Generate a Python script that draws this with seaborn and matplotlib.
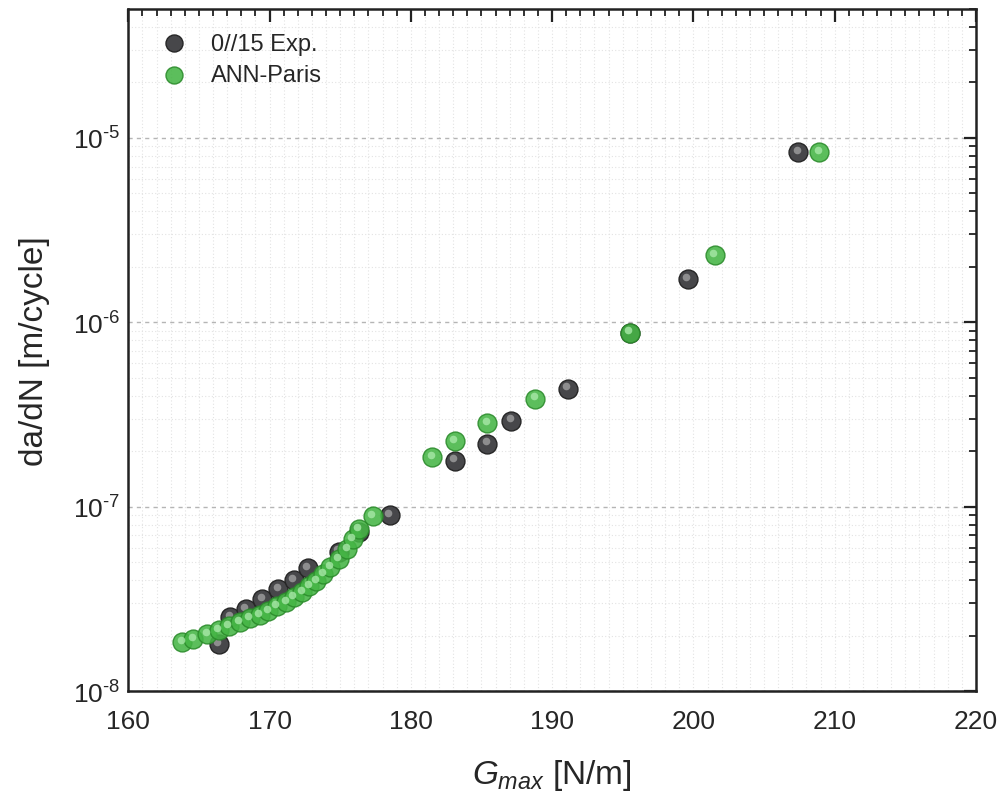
import numpy as np
import pandas as pd
import matplotlib
matplotlib.use("Agg")
import matplotlib.pyplot as plt
import seaborn as sns
from matplotlib.ticker import MultipleLocator, LogLocator, NullFormatter

# datos
exp_g = [166.4, 167.2, 168.3, 169.5, 170.6, 171.7, 172.7, 174.9, 176.3, 178.5,
         183.1, 185.4, 187.1, 191.1, 195.5, 199.6, 207.4]
exp_dadn = [1.80e-8, 2.52e-8, 2.78e-8, 3.15e-8, 3.57e-8, 3.99e-8, 4.63e-8, 5.7e-8, 7.3e-8, 9.0e-8,
            1.78e-7, 2.20e-7, 2.93e-7, 4.37e-7, 8.79e-7, 1.72e-6, 8.39e-6]

ann_g = [163.8, 164.6, 165.6, 166.4, 167.1, 167.9, 168.6, 169.3, 169.9, 170.5,
         171.2, 171.7, 172.3, 172.8, 173.3, 173.8, 174.3, 174.9, 175.5, 175.9,
         176.3, 177.3, 181.5, 183.1, 185.4, 188.8, 195.5, 201.5, 208.9]
ann_dadn = [1.84e-8, 1.91e-8, 2.04e-8, 2.14e-8, 2.25e-8, 2.36e-8, 2.48e-8, 2.58e-8, 2.71e-8, 2.89e-8,
            3.03e-8, 3.23e-8, 3.44e-8, 3.70e-8, 3.94e-8, 4.30e-8, 4.69e-8, 5.18e-8, 5.87e-8, 6.65e-8,
            7.54e-8, 8.86e-8, 1.85e-7, 2.26e-7, 2.83e-7, 3.86e-7, 8.79e-7, 2.32e-6, 8.39e-6]

exp = pd.DataFrame({'G': exp_g, 'dadn': exp_dadn})
ann = pd.DataFrame({'G': ann_g, 'dadn': ann_dadn})

sns.set_style("white")
plt.rcParams['font.family'] = ['Liberation Sans', 'DejaVu Sans']
plt.rcParams['mathtext.fontset'] = 'custom'
plt.rcParams['mathtext.rm'] = 'Liberation Sans'
plt.rcParams['mathtext.it'] = 'Liberation Sans:italic'

fig = plt.figure(figsize=(10.02, 8.03), dpi=100)
ax = fig.add_axes([0.128, 0.138, 0.846, 0.8495])

negro = '#47474a'
verde = '#45b545'
ms = 185

sns.scatterplot(data=exp, x='G', y='dadn', s=ms, color=negro, edgecolor='#262626',
                linewidth=1.0, ax=ax, label='0//15 Exp.', zorder=3)
sns.scatterplot(data=ann, x='G', y='dadn', s=ms, color=verde, edgecolor='#2a8a2a',
                linewidth=1.0, alpha=0.88, ax=ax, label='ANN-Paris', zorder=4)
# brillo de las esferas
ax.scatter(exp.G - 0.1, exp.dadn * 1.03, s=30, color='#a0a0a0', alpha=0.8,
           linewidth=0, zorder=3.5)
ax.scatter(ann.G - 0.1, ann.dadn * 1.03, s=30, color='#a8e8a8', alpha=0.8,
           linewidth=0, zorder=4.5)

ax.set_yscale('log')
ax.set_xlim(160, 220)
ax.set_ylim(1e-8, 5e-5)
ax.xaxis.set_major_locator(MultipleLocator(10))
ax.xaxis.set_minor_locator(MultipleLocator(1))
ax.yaxis.set_minor_locator(LogLocator(base=10, subs=np.arange(2, 10), numticks=20))
ax.yaxis.set_minor_formatter(NullFormatter())
ax.set_yticks([1e-8, 1e-7, 1e-6, 1e-5])
ax.set_yticklabels(['10$^{\\text{-8}}$', '10$^{\\text{-7}}$', '10$^{\\text{-6}}$', '10$^{\\text{-5}}$'])

ax.tick_params(which='both', direction='in', top=True, right=True, labelsize=19,
               color='#222222')
ax.tick_params(which='major', length=9, width=1.6)
ax.tick_params(which='minor', length=5, width=1.3)
ax.tick_params(axis='x', which='major', pad=13)
ax.tick_params(axis='y', which='major', pad=6)
for s in ax.spines.values():
    s.set_linewidth(1.8)
    s.set_color('#222222')

ax.grid(which='major', axis='y', linestyle=(0, (3, 3)), color='#b5b5b5', linewidth=1.0)
ax.grid(which='minor', linestyle=(0, (1, 2)), color='#e3e3e3', linewidth=0.8)
ax.grid(which='major', axis='x', linestyle=(0, (1, 2)), color='#e3e3e3', linewidth=0.8)
ax.set_axisbelow(True)

ax.set_xlabel('$G_{max}$ [N/m]', fontsize=24, labelpad=17)
ax.set_ylabel('da/dN [m/cycle]', fontsize=24, labelpad=16)

h, l = ax.get_legend_handles_labels()
leg = ax.legend(h[:2], l[:2], loc='upper left', frameon=False, fontsize=17,
                markerscale=0.9, handletextpad=0.6, borderaxespad=0.6,
                labelspacing=0.4, handlelength=1.9)

fig.savefig('out.png', dpi=100)
